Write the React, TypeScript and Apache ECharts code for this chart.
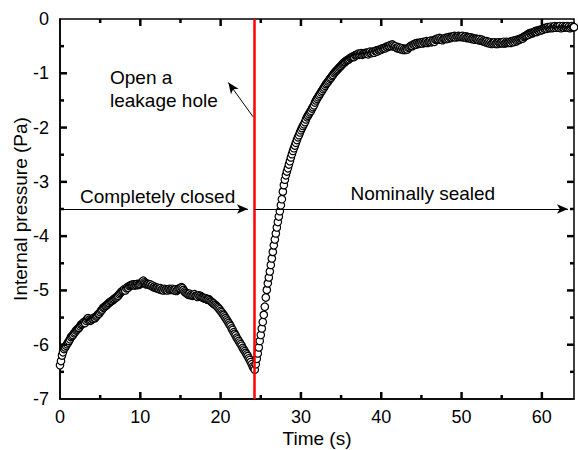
import React, { useEffect, useRef } from "react";
import * as echarts from "echarts";

// Sampling: one reading every TIME_STEP seconds, starting at t = 0 s
const TIME_STEP = 0.125;
// Internal pressure (Pa), 0 s .. 64 s (8 readings per row = 1 s)
const pressure = [
  -6.38, -6.3, -6.2, -6.14, -6.08, -6.05, -6.02, -5.99,
  -5.96, -5.93, -5.9, -5.86, -5.84, -5.82, -5.79, -5.77,
  -5.74, -5.72, -5.7, -5.69, -5.66, -5.63, -5.62, -5.6,
  -5.58, -5.6, -5.56, -5.53, -5.51, -5.54, -5.56, -5.55,
  -5.53, -5.52, -5.5, -5.51, -5.48, -5.46, -5.44, -5.43,
  -5.4, -5.37, -5.35, -5.32, -5.31, -5.29, -5.28, -5.26,
  -5.24, -5.23, -5.21, -5.2, -5.19, -5.17, -5.16, -5.14,
  -5.13, -5.11, -5.1, -5.07, -5.05, -5.03, -5.01, -5.0,
  -4.98, -5.0, -4.96, -4.94, -4.95, -4.92, -4.91, -4.9,
  -4.9, -4.89, -4.91, -4.89, -4.9, -4.88, -4.9, -4.89,
  -4.88, -4.86, -4.84, -4.82, -4.85, -4.87, -4.89, -4.88,
  -4.88, -4.9, -4.89, -4.92, -4.91, -4.94, -4.93, -4.95,
  -4.96, -4.95, -4.97, -4.98, -4.96, -4.99, -4.98, -5.0,
  -4.97, -4.99, -4.98, -5.0, -4.98, -4.97, -4.99, -4.98,
  -4.97, -4.99, -5.0, -4.98, -5.01, -4.99, -4.97, -4.96,
  -4.96, -4.94, -4.96, -4.99, -5.02, -5.04, -5.05, -5.07,
  -5.08, -5.06, -5.09, -5.08, -5.1, -5.09, -5.07, -5.1,
  -5.1, -5.12, -5.09, -5.11, -5.1, -5.12, -5.13, -5.14,
  -5.15, -5.14, -5.16, -5.17, -5.16, -5.18, -5.2, -5.21,
  -5.23, -5.24, -5.26, -5.27, -5.29, -5.31, -5.33, -5.35,
  -5.38, -5.4, -5.43, -5.45, -5.48, -5.51, -5.54, -5.57,
  -5.6, -5.63, -5.66, -5.7, -5.73, -5.77, -5.8, -5.83,
  -5.87, -5.9, -5.93, -5.96, -5.99, -6.02, -6.06, -6.09,
  -6.12, -6.15, -6.18, -6.21, -6.25, -6.28, -6.32, -6.36,
  -6.4, -6.43, -6.46, -6.36, -6.26, -6.16, -6.05, -5.93,
  -5.82, -5.7, -5.58, -5.45, -5.3, -5.13, -4.99, -4.87,
  -4.76, -4.65, -4.53, -4.41, -4.29, -4.17, -4.06, -3.95,
  -3.84, -3.74, -3.64, -3.54, -3.43, -3.32, -3.18, -3.06,
  -2.96, -2.88, -2.81, -2.75, -2.68, -2.62, -2.55, -2.49,
  -2.43, -2.38, -2.33, -2.28, -2.23, -2.18, -2.14, -2.09,
  -2.05, -2.01, -1.97, -1.94, -1.9, -1.85, -1.81, -1.78,
  -1.75, -1.72, -1.69, -1.65, -1.62, -1.59, -1.54, -1.5,
  -1.47, -1.44, -1.41, -1.38, -1.35, -1.32, -1.29, -1.26,
  -1.23, -1.2, -1.18, -1.15, -1.13, -1.1, -1.08, -1.05,
  -1.03, -1.0, -0.98, -0.96, -0.94, -0.92, -0.9, -0.88,
  -0.86, -0.84, -0.82, -0.8, -0.79, -0.77, -0.76, -0.75,
  -0.74, -0.72, -0.71, -0.7, -0.69, -0.7, -0.67, -0.66,
  -0.66, -0.64, -0.66, -0.65, -0.63, -0.66, -0.64, -0.63,
  -0.64, -0.62, -0.63, -0.65, -0.62, -0.6, -0.63, -0.61,
  -0.6, -0.62, -0.59, -0.58, -0.6, -0.57, -0.58, -0.56,
  -0.56, -0.54, -0.55, -0.53, -0.54, -0.51, -0.52, -0.5,
  -0.5, -0.48, -0.5, -0.47, -0.49, -0.51, -0.5, -0.53,
  -0.54, -0.52, -0.55, -0.53, -0.56, -0.54, -0.57, -0.55,
  -0.57, -0.55, -0.56, -0.53, -0.52, -0.5, -0.49, -0.5,
  -0.47, -0.48, -0.45, -0.47, -0.44, -0.46, -0.44, -0.45,
  -0.43, -0.45, -0.42, -0.44, -0.43, -0.41, -0.44, -0.42,
  -0.42, -0.4, -0.43, -0.41, -0.39, -0.42, -0.38, -0.37,
  -0.36, -0.38, -0.35, -0.38, -0.36, -0.39, -0.37, -0.36,
  -0.35, -0.37, -0.34, -0.36, -0.33, -0.35, -0.34, -0.32,
  -0.33, -0.31, -0.34, -0.32, -0.33, -0.31, -0.33, -0.32,
  -0.33, -0.31, -0.34, -0.33, -0.32, -0.35, -0.33, -0.34,
  -0.36, -0.34, -0.37, -0.35, -0.36, -0.38, -0.36, -0.37,
  -0.37, -0.39, -0.37, -0.4, -0.38, -0.41, -0.4, -0.42,
  -0.43, -0.41, -0.44, -0.42, -0.45, -0.43, -0.46, -0.44,
  -0.45, -0.43, -0.46, -0.44, -0.46, -0.43, -0.45, -0.44,
  -0.43, -0.45, -0.42, -0.45, -0.44, -0.42, -0.44, -0.43,
  -0.42, -0.44, -0.41, -0.43, -0.4, -0.42, -0.39, -0.41,
  -0.39, -0.37, -0.38, -0.36, -0.35, -0.36, -0.33, -0.32,
  -0.31, -0.3, -0.28, -0.29, -0.26, -0.27, -0.25, -0.26,
  -0.24, -0.23, -0.22, -0.24, -0.21, -0.22, -0.2, -0.21,
  -0.19, -0.2, -0.17, -0.18, -0.16, -0.18, -0.15, -0.17,
  -0.16, -0.14, -0.17, -0.15, -0.16, -0.13, -0.16, -0.14,
  -0.14, -0.16, -0.13, -0.17, -0.15, -0.13, -0.16, -0.14,
  -0.15, -0.13, -0.16, -0.14, -0.17, -0.15, -0.13, -0.15,
  -0.15,
];

// Axis ranges and tick positions
const X_RANGE = [0, 64];
const X_MAJOR = 10;
const Y_RANGE = [-7, 0];
const Y_MAJOR = 1;
const xMajorTicks = [10, 20, 30, 40, 50, 60];
const xMinorTicks = [5, 15, 25, 35, 45, 55];
const yMajorTicks = [-6, -5, -4, -3, -2, -1];
const yMinorTicks = [-6.5, -5.5, -4.5, -3.5, -2.5, -1.5, -0.5];

// Events
const LEAK_TIME = 24.2; // s, leakage hole opened
const PHASE_LEVEL = -3.5; // Pa, height of the phase arrows
const closedArrow = [0.5, 23.4]; // s
const sealedArrow = [24.2, 63.25]; // s
const leakArrow = [
  [24.03, -1.8],
  [20.96, -1.17],
];

const X_NAME = "Time (s)";
const Y_NAME = "Internal pressure (Pa)";
const annotationTexts = ["Open a", "leakage hole", "Completely closed", "Nominally sealed"];

export default function App() {
  const ref = useRef<HTMLDivElement>(null);

  useEffect(() => {
    if (!ref.current) return;
    const grid = { left: 60, right: 4, top: 19, bottom: 51 };
    const chart = echarts.init(ref.current, null, { renderer: "svg" });
    const font = "Liberation Sans";
    const points = pressure.map((p, i) => [i * TIME_STEP, p]);

    // tick marks: [x, y, side (0 bottom, 1 top, 2 left, 3 right), length px]
    const MAJOR_LEN = 7;
    const MINOR_LEN = 4;
    const tickData: number[][] = [];
    const addX = (vals: number[], len: number) =>
      vals.forEach((v) => {
        tickData.push([v, Y_RANGE[0], 0, len]);
        tickData.push([v, Y_RANGE[1], 1, len]);
      });
    const addY = (vals: number[], len: number) =>
      vals.forEach((v) => {
        tickData.push([X_RANGE[0], v, 2, len]);
        tickData.push([X_RANGE[1], v, 3, len]);
      });
    addX(xMajorTicks, MAJOR_LEN);
    addX(xMinorTicks, MINOR_LEN);
    addY(yMajorTicks, MAJOR_LEN);
    addY(yMinorTicks, MINOR_LEN);

    const TW = 2.5; // tick thickness
    const renderTick = (_params: any, api: any) => {
      const p = api.coord([api.value(0), api.value(1)]);
      const side = api.value(2);
      const len = api.value(3);
      let shape;
      if (side === 0) shape = { x: p[0] - TW / 2, y: p[1] - len, width: TW, height: len };
      else if (side === 1) shape = { x: p[0] - TW / 2, y: p[1], width: TW, height: len };
      else if (side === 2) shape = { x: p[0], y: p[1] - TW / 2, width: len, height: TW };
      else shape = { x: p[0] - len, y: p[1] - TW / 2, width: len, height: TW };
      return { type: "rect", shape, style: { fill: "#000" } };
    };

    const lineLs = () => ({ color: "#000", width: 1.5 });
    const labelStyle = () => ({ color: "#000", fontSize: 18, fontFamily: font });

    const annPos = [
      { x: 110, y: 77 },
      { x: 110, y: 100 },
      { x: 80, y: 196.5 },
      { x: 350.5, y: 193.5 },
    ];

    const arrowEnd = (c: number[]) => ({ coord: c, symbol: "arrow", symbolSize: [7, 11] });

    chart.setOption({
      animation: false,
      backgroundColor: "#fff",
      grid: {
        ...grid,
        containLabel: false,
        outerBoundsMode: "none",
        show: true,
        borderColor: "#000",
        borderWidth: 1.5,
        backgroundColor: "transparent",
      },
      xAxis: {
        type: "value",
        min: X_RANGE[0],
        max: X_RANGE[1],
        interval: X_MAJOR,
        position: "bottom",
        splitLine: { show: false },
        axisLine: { show: true, onZero: false, lineStyle: lineLs() },
        axisTick: { show: false },
        axisLabel: {
          ...labelStyle(),
          margin: 9,
          formatter: (v: number) => (v % X_MAJOR === 0 ? String(v) : ""),
        },
        name: X_NAME,
        nameLocation: "middle",
        nameGap: 30,
        nameMoveOverlap: false,
        nameTextStyle: { color: "#000", fontSize: 19, fontFamily: font },
      },
      yAxis: {
        type: "value",
        min: Y_RANGE[0],
        max: Y_RANGE[1],
        interval: Y_MAJOR,
        position: "left",
        splitLine: { show: false },
        axisLine: { show: true, onZero: false, lineStyle: lineLs() },
        axisTick: { show: false },
        axisLabel: { ...labelStyle(), margin: 11 },
        name: Y_NAME,
        nameLocation: "middle",
        nameGap: 30,
        nameMoveOverlap: false,
        nameTextStyle: { color: "#000", fontSize: 19, fontFamily: font },
      },
      series: [
        {
          type: "scatter",
          data: points,
          symbol: "circle",
          symbolSize: 7.5,
          itemStyle: { color: "#fff", borderColor: "#000", borderWidth: 1.2, opacity: 1 },
          silent: true,
          z: 2,
        },
        {
          type: "custom",
          data: tickData,
          dimensions: ["x", "y", "side", "len"],
          encode: { x: 0, y: 1 },
          renderItem: renderTick,
          clip: false,
          silent: true,
          z: 6,
        },
        {
          type: "line",
          data: [],
          color: "#ff0000",
          silent: true,
          z: 5,
          markLine: {
            silent: true,
            symbol: ["none", "none"],
            label: { show: false },
            emphasis: { disabled: true },
            lineStyle: { color: "#ff0000", width: 2.5, type: "solid" },
            data: [{ xAxis: LEAK_TIME }],
          },
        },
        {
          type: "line",
          data: [],
          color: "#000",
          silent: true,
          z: 5,
          markLine: {
            silent: true,
            symbol: ["none", "arrow"],
            symbolSize: 10,
            label: { show: false },
            emphasis: { disabled: true },
            lineStyle: { color: "#000", width: 1, type: "solid" },
            data: [
              [{ coord: [closedArrow[0], PHASE_LEVEL], symbol: "none" }, arrowEnd([closedArrow[1], PHASE_LEVEL])],
              [{ coord: [sealedArrow[0], PHASE_LEVEL], symbol: "none" }, arrowEnd([sealedArrow[1], PHASE_LEVEL])],
              [{ coord: leakArrow[0], symbol: "none" }, arrowEnd(leakArrow[1])],
            ],
          },
        },
      ],
      graphic: annotationTexts.map((t, i) => ({
        type: "text",
        x: annPos[i].x,
        y: annPos[i].y,
        silent: true,
        z: 10,
        style: {
          text: t,
          fill: "#000",
          fontSize: 19,
          fontFamily: font,
          textAlign: "left",
          verticalAlign: "middle",
        },
      })),
    });

    return () => chart.dispose();
  }, []);

  return (
    <div
      ref={ref}
      style={{ position: "absolute", left: 0, top: 0, width: 578, height: 450, background: "#fff" }}
    />
  );
}
